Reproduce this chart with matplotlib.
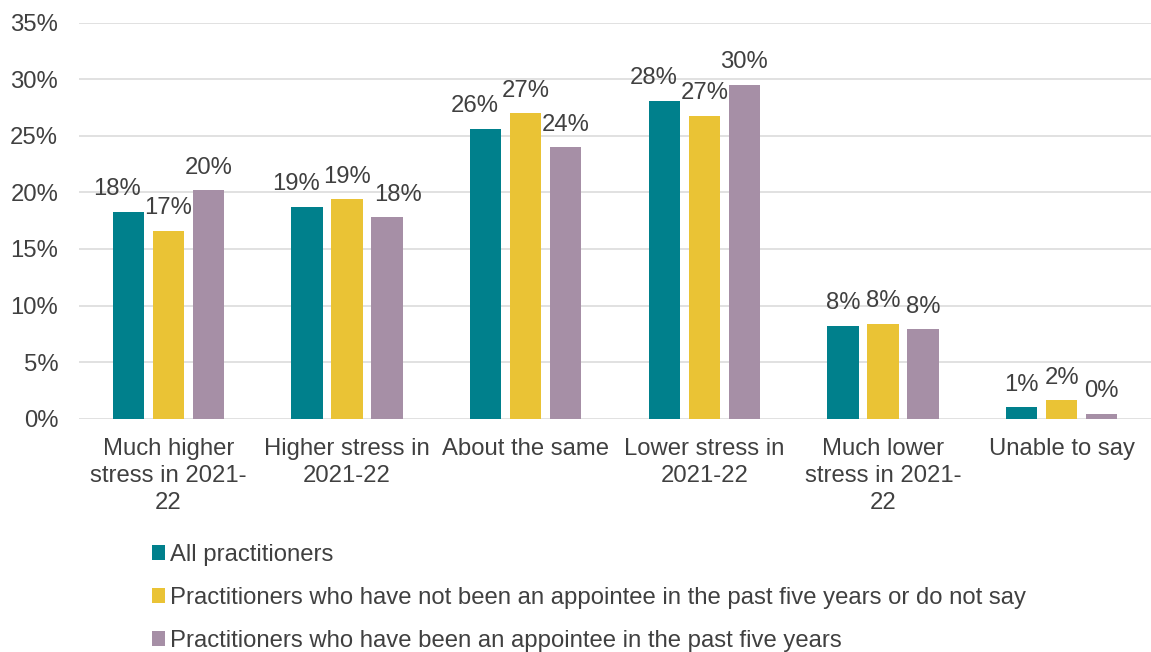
import numpy as np
import matplotlib
matplotlib.use("Agg")
import matplotlib.pyplot as plt
from matplotlib.ticker import FuncFormatter

plt.rcParams['font.family'] = ['Liberation Sans', 'DejaVu Sans']

# data
categories = ["Much higher\nstress in 2021-\n22", "Higher stress in\n2021-22", "About the same",
              "Lower stress in\n2021-22", "Much lower\nstress in 2021-\n22", "Unable to say"]
series_names = ["All practitioners",
                "Practitioners who have not been an appointee in the past five years or do not say",
                "Practitioners who have been an appointee in the past five years"]
all_pract = [18.3, 18.7, 25.6, 28.1, 8.2, 1.0]
not_appointee = [16.6, 19.4, 27.0, 26.8, 8.4, 1.6]
appointee = [20.2, 17.8, 24.0, 29.5, 7.9, 0.4]
colors = ["#00808C", "#EAC335", "#A68FA6"]

text_col = "#404040"
fs = 17.2

fig = plt.figure(figsize=(11.51, 6.52), dpi=100)
ax = fig.add_axes([0.0686, 0.358, 0.9314, 0.607])

x = np.arange(len(categories))
width = 0.176
step = 0.224
labels = []
for i, vals in enumerate([all_pract, not_appointee, appointee]):
    pos = x + (i - 1) * step
    bars = ax.bar(pos, vals, width, color=colors[i], label=series_names[i], zorder=3)
    row = []
    for b, v in zip(bars, vals):
        t = ax.annotate(f"{round(v):.0f}%", (b.get_x() + b.get_width() / 2, v),
                        xytext=(0, 12), textcoords="offset points",
                        ha="center", va="baseline", fontsize=fs, color=text_col)
        row.append(t)
    labels.append(row)

ax.set_xlim(-0.5, len(categories) - 0.5)
ax.set_ylim(0, 35)
ax.set_yticks(np.arange(0, 36, 5))
ax.yaxis.set_major_formatter(FuncFormatter(lambda v, p: f"{v:.0f}%"))
ax.set_xticks(x)
ax.set_xticklabels(categories, fontsize=fs, color=text_col, linespacing=1.3)
ax.tick_params(axis="y", length=0, pad=15, labelsize=fs, labelcolor=text_col)
ax.tick_params(axis="x", length=0, pad=14)
ax.grid(axis="y", color="#D9D9D9", linewidth=1.1, zorder=0)
for s in ax.spines.values():
    s.set_visible(False)

# nudge outer data labels sideways when they collide with the middle one (like Excel)
fig.canvas.draw()
r = fig.canvas.get_renderer()
for g in range(len(categories)):
    mid = labels[1][g].get_window_extent(r)
    for side, k in ((-1, 0), (1, 2)):
        bb = labels[k][g].get_window_extent(r)
        vert = bb.y0 < mid.y1 + 8 and mid.y0 < bb.y1 + 8
        over = (bb.x1 - mid.x0) if side < 0 else (mid.x1 - bb.x0)
        if vert and over > -2:
            shift = (over + 3) * 72 / fig.dpi
            labels[k][g].xyann = (side * shift, 12)

leg = fig.legend(loc="upper left", bbox_to_anchor=(0.132, 0.166), ncol=1, frameon=False,
                 fontsize=fs, handlelength=0.55, handleheight=0.55, handletextpad=0.2,
                 labelspacing=0.88, borderpad=0, borderaxespad=0)
for t in leg.get_texts():
    t.set_color(text_col)

fig.savefig("out.png", dpi=100)
